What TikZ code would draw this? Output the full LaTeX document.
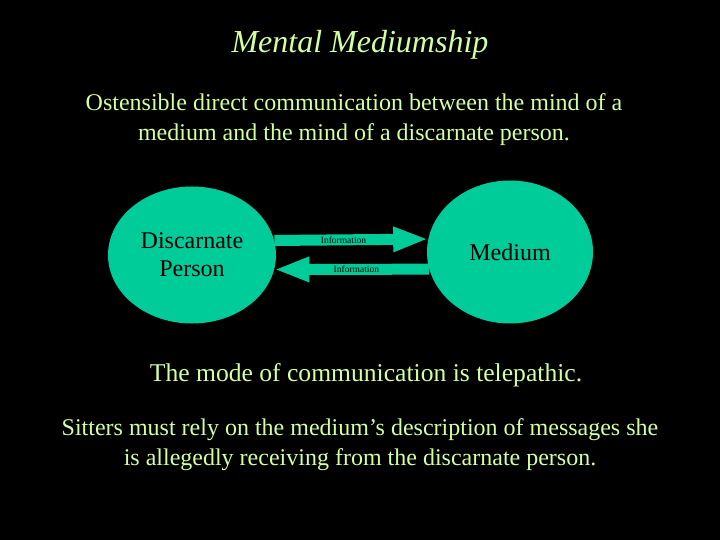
\documentclass[tikz,border=0pt]{standalone}
\usepackage{fontspec}
\setmainfont{Liberation Serif}
\usetikzlibrary{shapes.geometric}
\usetikzlibrary{positioning}
\usetikzlibrary{arrows.meta}
\definecolor{slidegreen}{RGB}{0,204,153}
\definecolor{paletext}{RGB}{210,255,160}
\tikzset{
    mindnode/.style = {ellipse, fill=slidegreen, inner sep=0, align=center, text=black, font=\fontsize{24}{28}\selectfont},
    slidetext/.style = {align=center, text=paletext, anchor=base, font=\fontsize{24}{30}\selectfont},
    infoarrow/.style = {-{Triangle[length=35pt, width=23pt]}, line width=11pt, slidegreen},
    infolabel/.style = {text=black, inner sep=0, font=\fontsize{9.5}{10}\selectfont}
}
\begin{document}
\begin{tikzpicture}[x=1pt,y=-1pt]
\fill[black] (0,0) rectangle (720,540);
\useasboundingbox (0,0) rectangle (720,540);

\node[slidetext, font=\fontsize{32}{36}\itshape\selectfont] at (360,53) (title) {Mental Mediumship};
\node[slidetext] at (354,141) (intro) {Ostensible direct communication between the mind of a\\medium and the mind of a discarnate person.};

\node[mindnode, minimum width=168pt, minimum height=137pt] at (192,255) (dp) {Discarnate\\Person};
\node[mindnode, minimum width=166pt, minimum height=143pt] at (510,252) (med) {Medium};

\draw[infoarrow] (dp.10) -- (med.171.5) node[infolabel, pos=0.45] {Information};
\draw[infoarrow] (med.192.5) -- (dp.-10.5) node[infolabel, pos=0.47] {Information};

\node[slidetext, font=\fontsize{25.6}{30}\selectfont] at (366,381) (mode) {The mode of communication is telepathic.};
\node[slidetext] at (360,465) (sitters) {Sitters must rely on the medium’s description of messages she\\is allegedly receiving from the discarnate person.};

\end{tikzpicture}
\end{document}
